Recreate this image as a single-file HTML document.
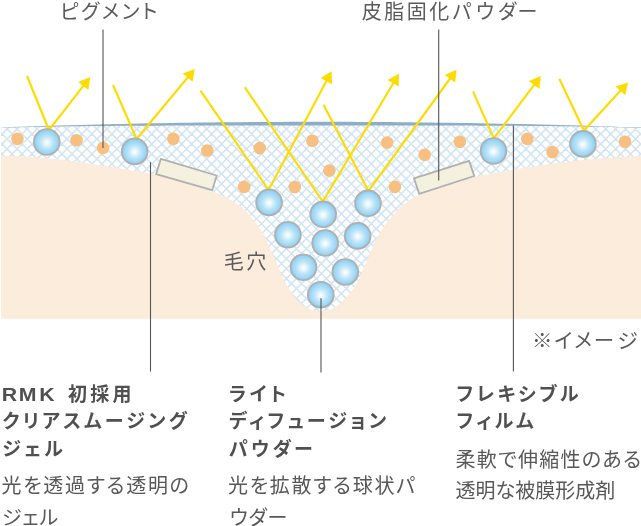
<!DOCTYPE html>
<html lang="ja"><head><meta charset="utf-8"><title>image</title>
<style>
html,body{margin:0;padding:0;background:#fff;}
body{width:641px;height:526px;overflow:hidden;position:relative;font-family:"Liberation Sans","Noto Sans CJK JP",sans-serif;}
svg{position:absolute;left:0;top:0;display:block;will-change:transform;}
text{font-family:"Liberation Sans","Noto Sans CJK JP",sans-serif;fill:#555;}
.b{font-weight:bold;font-size:19px;letter-spacing:3.3px;font-feature-settings:'palt';fill:#505050;}
.n{font-size:20px;letter-spacing:1.7px;fill:#585858;font-feature-settings:'palt';}
.l{font-size:20px;letter-spacing:2.5px;fill:#5a5a5a;font-feature-settings:'palt';}
</style></head><body>
<svg width="641" height="526" viewBox="0 0 641 526">
<defs>
<clipPath id="gel"><path d="M1 124 L641 124 L641 180 L440 215 L400 318 L240 318 L200 215 L1 180Z"/></clipPath>
<radialGradient id="sg" cx="50%" cy="52%" r="50%">
<stop offset="0" stop-color="#ffffff"/>
<stop offset="0.12" stop-color="#f2fafe"/>
<stop offset="0.5" stop-color="#bce4f8"/>
<stop offset="1" stop-color="#88d0f5"/>
</radialGradient>
</defs>

<path clip-path="url(#gel)" d="M634.63 118 L836.63 320M624.65 118 L826.65 320M614.68 118 L816.68 320M604.70 118 L806.70 320M594.72 118 L796.72 320M584.75 118 L786.75 320M574.77 118 L776.77 320M564.79 118 L766.79 320M554.82 118 L756.82 320M544.84 118 L746.84 320M534.86 118 L736.86 320M524.88 118 L726.88 320M514.91 118 L716.91 320M504.93 118 L706.93 320M494.95 118 L696.95 320M484.98 118 L686.98 320M475.00 118 L677.00 320M465.02 118 L667.02 320M455.05 118 L657.05 320M445.07 118 L647.07 320M435.09 118 L637.09 320M425.12 118 L627.12 320M415.14 118 L617.14 320M405.16 118 L607.16 320M395.18 118 L597.18 320M385.21 118 L587.21 320M375.23 118 L577.23 320M365.25 118 L567.25 320M355.28 118 L557.28 320M345.30 118 L547.30 320M335.32 118 L537.32 320M325.35 118 L527.35 320M315.37 118 L517.37 320M305.39 118 L507.39 320M295.41 118 L497.41 320M285.44 118 L487.44 320M275.46 118 L477.46 320M265.48 118 L467.48 320M255.51 118 L457.51 320M245.53 118 L447.53 320M235.55 118 L437.55 320M225.57 118 L427.57 320M215.60 118 L417.60 320M205.62 118 L407.62 320M195.64 118 L397.64 320M185.67 118 L387.67 320M175.69 118 L377.69 320M165.71 118 L367.71 320M155.74 118 L357.74 320M145.76 118 L347.76 320M135.78 118 L337.78 320M125.80 118 L327.81 320M115.83 118 L317.83 320M105.85 118 L307.85 320M95.87 118 L297.87 320M85.90 118 L287.90 320M75.92 118 L277.92 320M65.94 118 L267.94 320M55.97 118 L257.97 320M45.99 118 L247.99 320M36.01 118 L238.01 320M26.03 118 L228.03 320M16.06 118 L218.06 320M6.08 118 L208.08 320M-3.90 118 L198.10 320M-13.87 118 L188.13 320M-23.85 118 L178.15 320M-33.83 118 L168.17 320M-43.80 118 L158.20 320M-53.78 118 L148.22 320M-63.76 118 L138.24 320M-73.74 118 L128.26 320M-83.71 118 L118.29 320M-93.69 118 L108.31 320M-103.67 118 L98.33 320M-113.64 118 L88.36 320M-123.62 118 L78.38 320M-133.60 118 L68.40 320M-143.57 118 L58.43 320M-153.55 118 L48.45 320M-163.53 118 L38.47 320M-173.50 118 L28.50 320M-183.48 118 L18.52 320M-193.46 118 L8.54 320M8.08 118 L-193.92 320M18.05 118 L-183.95 320M28.03 118 L-173.97 320M38.01 118 L-163.99 320M47.99 118 L-154.01 320M57.96 118 L-144.04 320M67.94 118 L-134.06 320M77.92 118 L-124.08 320M87.89 118 L-114.11 320M97.87 118 L-104.13 320M107.85 118 L-94.15 320M117.82 118 L-84.18 320M127.80 118 L-74.20 320M137.78 118 L-64.22 320M147.75 118 L-54.25 320M157.73 118 L-44.27 320M167.71 118 L-34.29 320M177.69 118 L-24.31 320M187.66 118 L-14.34 320M197.64 118 L-4.36 320M207.62 118 L5.62 320M217.59 118 L15.59 320M227.57 118 L25.57 320M237.55 118 L35.55 320M247.53 118 L45.53 320M257.50 118 L55.50 320M267.48 118 L65.48 320M277.46 118 L75.46 320M287.43 118 L85.43 320M297.41 118 L95.41 320M307.39 118 L105.39 320M317.36 118 L115.36 320M327.34 118 L125.34 320M337.32 118 L135.32 320M347.30 118 L145.30 320M357.27 118 L155.27 320M367.25 118 L165.25 320M377.23 118 L175.23 320M387.20 118 L185.20 320M397.18 118 L195.18 320M407.16 118 L205.16 320M417.13 118 L215.13 320M427.11 118 L225.11 320M437.09 118 L235.09 320M447.07 118 L245.07 320M457.04 118 L255.04 320M467.02 118 L265.02 320M477.00 118 L275.00 320M486.97 118 L284.97 320M496.95 118 L294.95 320M506.93 118 L304.93 320M516.90 118 L314.90 320M526.88 118 L324.88 320M536.86 118 L334.86 320M546.84 118 L344.84 320M556.81 118 L354.81 320M566.79 118 L364.79 320M576.77 118 L374.77 320M586.74 118 L384.74 320M596.72 118 L394.72 320M606.70 118 L404.70 320M616.67 118 L414.67 320M626.65 118 L424.65 320M636.63 118 L434.63 320M646.61 118 L444.61 320M656.58 118 L454.58 320M666.56 118 L464.56 320M676.54 118 L474.54 320M686.51 118 L484.51 320M696.49 118 L494.49 320M706.47 118 L504.47 320M716.44 118 L514.44 320M726.42 118 L524.42 320M736.40 118 L534.40 320M746.38 118 L544.38 320M756.35 118 L554.35 320M766.33 118 L564.33 320M776.31 118 L574.31 320M786.28 118 L584.28 320M796.26 118 L594.26 320M806.24 118 L604.24 320M816.21 118 L614.21 320M826.19 118 L624.19 320M836.17 118 L634.17 320" stroke="#d2e5f2" stroke-width="1.55" fill="none"/>
<path d="M1.00 155.40 C4.17 155.55 10.17 155.60 20.00 156.30 C29.83 157.00 46.67 158.12 60.00 159.60 C73.33 161.08 87.50 163.32 100.00 165.20 C112.50 167.08 127.50 169.68 135.00 170.90 C142.50 172.12 141.67 171.87 145.00 172.50 C148.33 173.13 149.17 173.23 155.00 174.70 C160.83 176.17 172.50 179.22 180.00 181.30 C187.50 183.38 194.67 185.55 200.00 187.20 C205.33 188.85 208.97 190.17 212.00 191.20 C215.03 192.23 216.12 192.52 218.20 193.40 C220.28 194.28 222.42 195.40 224.50 196.50 C226.58 197.60 228.62 198.75 230.70 200.00 C232.78 201.25 234.65 202.33 237.00 204.00 C239.35 205.67 241.75 207.00 244.80 210.00 C247.85 213.00 252.02 217.67 255.30 222.00 C258.58 226.33 261.90 231.33 264.50 236.00 C267.10 240.67 268.72 245.17 270.90 250.00 C273.08 254.83 275.42 260.00 277.60 265.00 C279.78 270.00 281.85 275.63 284.00 280.00 C286.15 284.37 288.70 288.28 290.50 291.20 C292.30 294.12 293.25 295.52 294.80 297.50 C296.35 299.48 297.92 301.43 299.80 303.10 C301.68 304.77 304.00 306.35 306.10 307.50 C308.20 308.65 310.08 309.40 312.40 310.00 C314.72 310.60 317.50 311.07 320.00 311.10 C322.50 311.13 325.53 310.55 327.40 310.20 C329.27 309.85 329.52 309.72 331.20 309.00 C332.88 308.28 335.42 307.30 337.50 305.90 C339.58 304.50 341.83 302.42 343.70 300.60 C345.57 298.78 347.25 296.77 348.70 295.00 C350.15 293.23 351.25 291.67 352.40 290.00 C353.55 288.33 354.57 286.67 355.60 285.00 C356.63 283.33 357.02 283.33 358.60 280.00 C360.18 276.67 362.97 270.00 365.10 265.00 C367.23 260.00 369.28 254.83 371.40 250.00 C373.52 245.17 375.17 240.67 377.80 236.00 C380.43 231.33 383.87 226.33 387.20 222.00 C390.53 217.67 395.42 212.63 397.80 210.00 C400.18 207.37 399.47 207.87 401.50 206.20 C403.53 204.53 407.13 201.87 410.00 200.00 C412.87 198.13 412.87 197.25 418.70 195.00 C424.53 192.75 435.63 189.52 445.00 186.50 C454.37 183.48 469.07 178.68 474.90 176.90 C480.73 175.12 472.48 177.18 480.00 175.80 C487.52 174.42 506.67 170.83 520.00 168.60 C533.33 166.37 546.67 164.10 560.00 162.40 C573.33 160.70 587.00 159.48 600.00 158.40 C613.00 157.32 631.17 156.35 638.00 155.90 C644.83 155.45 640.50 155.73 641.00 155.70 L641 318.8 L1 318.8Z" fill="#fcecdc"/>
<polygon points="1.0,127.59 10.0,127.28 20.0,126.94 30.0,126.62 40.0,126.30 50.0,126.00 60.0,125.71 70.0,125.42 80.0,125.15 90.0,124.89 100.0,124.65 110.0,124.41 120.0,124.18 130.0,123.97 140.0,123.76 150.0,123.57 160.0,123.39 170.0,123.22 180.0,123.06 190.0,122.91 200.0,122.78 210.0,122.65 220.0,122.53 230.0,122.43 240.0,122.34 250.0,122.26 260.0,122.19 270.0,122.13 280.0,122.08 290.0,122.04 300.0,122.02 310.0,122.00 320.0,122.00 330.0,122.01 340.0,122.03 350.0,122.06 360.0,122.10 370.0,122.15 380.0,122.21 390.0,122.29 400.0,122.37 410.0,122.47 420.0,122.58 430.0,122.70 440.0,122.83 450.0,122.97 460.0,123.12 470.0,123.29 480.0,123.46 490.0,123.65 500.0,123.84 510.0,124.05 520.0,124.27 530.0,124.50 540.0,124.74 550.0,125.00 560.0,125.26 570.0,125.53 580.0,125.82 590.0,126.12 600.0,126.43 610.0,126.75 620.0,127.08 630.0,127.42 640.0,127.77 641.0,127.81 641,110 1,110" fill="#fff"/>
<polygon points="1.0,127.39 10.0,127.08 20.0,126.74 30.0,126.42 40.0,126.10 50.0,125.80 60.0,125.51 70.0,125.22 80.0,124.95 90.0,124.69 100.0,124.45 110.0,124.21 120.0,123.98 130.0,123.77 140.0,123.56 150.0,123.37 160.0,123.19 170.0,123.02 180.0,122.86 190.0,122.71 200.0,122.58 210.0,122.45 220.0,122.33 230.0,122.23 240.0,122.14 250.0,122.06 260.0,121.99 270.0,121.93 280.0,121.88 290.0,121.84 300.0,121.82 310.0,121.80 320.0,121.80 330.0,121.81 340.0,121.83 350.0,121.86 360.0,121.90 370.0,121.95 380.0,122.01 390.0,122.09 400.0,122.17 410.0,122.27 420.0,122.38 430.0,122.50 440.0,122.63 450.0,122.77 460.0,122.92 470.0,123.09 480.0,123.26 490.0,123.45 500.0,123.64 510.0,123.85 520.0,124.07 530.0,124.30 540.0,124.54 550.0,124.80 560.0,125.06 570.0,125.33 580.0,125.62 590.0,125.92 600.0,126.23 610.0,126.55 620.0,126.88 630.0,127.22 640.0,127.57 641.0,127.61 641.0,128.06 640.0,128.02 630.0,127.67 620.0,127.33 610.0,127.03 600.0,126.83 590.0,126.65 580.0,126.49 570.0,126.34 560.0,126.22 550.0,126.10 540.0,126.00 530.0,125.92 520.0,125.84 510.0,125.78 500.0,125.73 490.0,125.68 480.0,125.64 470.0,125.61 460.0,125.58 450.0,125.56 440.0,125.54 430.0,125.53 420.0,125.52 410.0,125.51 400.0,125.51 390.0,125.50 380.0,125.50 370.0,125.50 360.0,125.50 350.0,125.50 340.0,125.50 330.0,125.50 320.0,125.50 310.0,125.50 300.0,125.50 290.0,125.50 280.0,125.50 270.0,125.50 260.0,125.50 250.0,125.51 240.0,125.51 230.0,125.52 220.0,125.52 210.0,125.53 200.0,125.55 190.0,125.56 180.0,125.59 170.0,125.61 160.0,125.65 150.0,125.69 140.0,125.74 130.0,125.79 120.0,125.86 110.0,125.93 100.0,126.02 90.0,126.12 80.0,126.24 70.0,126.37 60.0,126.52 50.0,126.68 40.0,126.87 30.0,127.07 20.0,127.30 10.0,127.55 1.0,127.84" fill="#8eaec5"/>
<polygon points="160.9,158.8 216.7,175.5 212.2,190.2 156.1,174.2" fill="#f4f1de" stroke="#b0b0b0" stroke-width="1.8"/>
<polygon points="414,178.4 469.1,160.9 474.3,176 419.2,193.8" fill="#f4f1de" stroke="#b0b0b0" stroke-width="1.8"/>
<circle cx="17.4" cy="138.9" r="6.3" fill="#f7bf80"/>
<circle cx="76.5" cy="140.3" r="6.3" fill="#f7bf80"/>
<circle cx="103" cy="148" r="6.3" fill="#f7bf80"/>
<circle cx="173.3" cy="138.8" r="6.3" fill="#f7bf80"/>
<circle cx="207.3" cy="150.5" r="6.3" fill="#f7bf80"/>
<circle cx="259.7" cy="148.1" r="6.3" fill="#f7bf80"/>
<circle cx="312.4" cy="140.8" r="6.3" fill="#f7bf80"/>
<circle cx="329.3" cy="170.6" r="6.3" fill="#f7bf80"/>
<circle cx="244.2" cy="186.9" r="6.3" fill="#f7bf80"/>
<circle cx="294.8" cy="187.0" r="6.3" fill="#f7bf80"/>
<circle cx="387.1" cy="142.6" r="6.3" fill="#f7bf80"/>
<circle cx="424.7" cy="154.8" r="6.3" fill="#f7bf80"/>
<circle cx="459.8" cy="141.8" r="6.3" fill="#f7bf80"/>
<circle cx="394.9" cy="186.9" r="6.3" fill="#f7bf80"/>
<circle cx="527.3" cy="138.9" r="6.3" fill="#f7bf80"/>
<circle cx="552.5" cy="152.1" r="6.3" fill="#f7bf80"/>
<circle cx="625" cy="141.8" r="6.3" fill="#f7bf80"/>
<path d="M27 76 L49 130 L83.9 85.1" fill="none" stroke="#ffdc00" stroke-width="2.15" stroke-linejoin="miter"/>
<polygon points="90.2,77.1 88.4,89.9 78.2,81.9" fill="#ffdc00"/>
<path d="M113 85 L136.6 139 L188.3 76.8" fill="none" stroke="#ffdc00" stroke-width="2.15" stroke-linejoin="miter"/>
<polygon points="194.8,69.0 192.6,81.8 182.6,73.5" fill="#ffdc00"/>
<path d="M200.5 90.6 L268.6 190 L326.8 80.3" fill="none" stroke="#ffdc00" stroke-width="2.15" stroke-linejoin="miter"/>
<polygon points="331.6,71.3 332.1,84.2 320.6,78.1" fill="#ffdc00"/>
<path d="M244.7 87.2 L322.8 201.5 L393.7 82.5" fill="none" stroke="#ffdc00" stroke-width="2.15" stroke-linejoin="miter"/>
<polygon points="398.9,73.7 398.8,86.6 387.6,80.0" fill="#ffdc00"/>
<path d="M323.5 104.8 L368.5 191 L450.5 78.0" fill="none" stroke="#ffdc00" stroke-width="2.15" stroke-linejoin="miter"/>
<polygon points="456.5,69.7 455.2,82.6 444.7,74.9" fill="#ffdc00"/>
<path d="M473 91.4 L493.8 138.5 L534.7 84.2" fill="none" stroke="#ffdc00" stroke-width="2.15" stroke-linejoin="miter"/>
<polygon points="540.8,76.0 539.3,88.9 528.9,81.0" fill="#ffdc00"/>
<path d="M559.3 78.7 L583.9 130.5 L621.1 90.1" fill="none" stroke="#ffdc00" stroke-width="2.15" stroke-linejoin="miter"/>
<polygon points="628.0,82.6 625.2,95.2 615.6,86.4" fill="#ffdc00"/>
<circle cx="46.8" cy="142" r="12.85" fill="url(#sg)" stroke="#b0b0b0" stroke-width="1.9"/>
<circle cx="134.7" cy="151.4" r="12.85" fill="url(#sg)" stroke="#b0b0b0" stroke-width="1.9"/>
<circle cx="269.1" cy="202.4" r="12.85" fill="url(#sg)" stroke="#b0b0b0" stroke-width="1.9"/>
<circle cx="323.2" cy="214.3" r="12.85" fill="url(#sg)" stroke="#b0b0b0" stroke-width="1.9"/>
<circle cx="368" cy="203.35" r="12.85" fill="url(#sg)" stroke="#b0b0b0" stroke-width="1.9"/>
<circle cx="287.9" cy="234.7" r="12.85" fill="url(#sg)" stroke="#b0b0b0" stroke-width="1.9"/>
<circle cx="325.2" cy="243.0" r="12.85" fill="url(#sg)" stroke="#b0b0b0" stroke-width="1.9"/>
<circle cx="357.7" cy="235.9" r="12.85" fill="url(#sg)" stroke="#b0b0b0" stroke-width="1.9"/>
<circle cx="303.5" cy="267.3" r="12.85" fill="url(#sg)" stroke="#b0b0b0" stroke-width="1.9"/>
<circle cx="345.3" cy="272" r="12.85" fill="url(#sg)" stroke="#b0b0b0" stroke-width="1.9"/>
<circle cx="320.8" cy="294.7" r="12.85" fill="url(#sg)" stroke="#b0b0b0" stroke-width="1.9"/>
<circle cx="493.5" cy="151" r="12.85" fill="url(#sg)" stroke="#b0b0b0" stroke-width="1.9"/>
<circle cx="582.9" cy="143.9" r="12.85" fill="url(#sg)" stroke="#b0b0b0" stroke-width="1.9"/>
<line x1="103.0" y1="29.5" x2="103.0" y2="148" stroke="#555" stroke-width="1.1"/>
<line x1="438.7" y1="29.5" x2="438.7" y2="180.5" stroke="#555" stroke-width="1.1"/>
<line x1="150.5" y1="162.2" x2="150.5" y2="371.6" stroke="#555" stroke-width="1.1"/>
<line x1="321.0" y1="298.2" x2="321.0" y2="372.5" stroke="#555" stroke-width="1.1"/>
<line x1="513.4" y1="125.6" x2="513.4" y2="371.6" stroke="#555" stroke-width="1.1"/>
<text class="l" x="60" y="18.7">ピグメント</text>
<text class="l" x="361.8" y="19">皮脂固化<tspan dx="0.5 2.2 1.7 -1.2">パウダー</tspan></text>
<text class="l" x="223.8" y="268.8">毛穴</text>
<text class="l" x="532" y="348.3" style="letter-spacing:1.8px;font-size:20.5px">※イメー<tspan dx="2">ジ</tspan></text>
<text class="b" transform="translate(0,401) scale(1.17,1)" style="font-size:18.2px;letter-spacing:0" x="1.6 16 33.6" y="0">RMK</text>
<text class="b" x="68" y="401">初採用</text>
<text class="b" x="2.2" y="428">クリアスムージング</text>
<text class="b" x="2.2" y="456">ジェル</text>
<text class="n" x="1.5" y="493.3" style="letter-spacing:1.7px">光を透過する透明の</text>
<text class="n" x="2" y="524.6" style="letter-spacing:0.8px">ジェル</text>
<text class="b" x="229" y="401">ライト</text>
<text class="b" x="229" y="428">ディフュージョン</text>
<text class="b" x="229" y="456">パウダー</text>
<text class="n" x="228" y="493.3" style="letter-spacing:1.7px">光を拡散する球状パ</text>
<text class="n" x="229.7" y="524.6" style="letter-spacing:0.8px">ウダー</text>
<text class="b" x="456.5" y="401">フレキシブル</text>
<text class="b" x="456.5" y="428">フィルム</text>
<text class="n" x="455.5" y="467" style="letter-spacing:1.3px">柔軟で伸縮性のある</text>
<text class="n" x="455.5" y="498" style="letter-spacing:0px">透明な被膜形成剤</text>
</svg>
</body></html>
